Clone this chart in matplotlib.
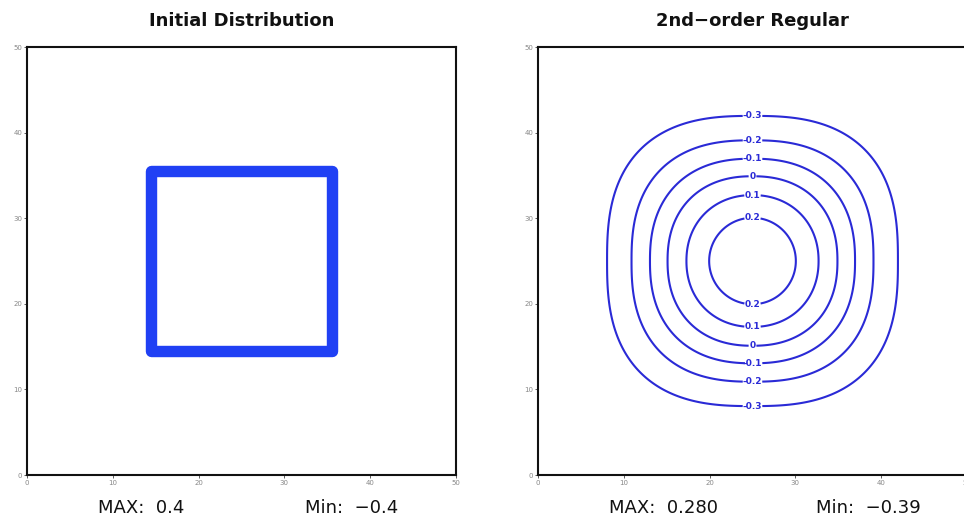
import numpy as np
import matplotlib
matplotlib.use("Agg")
import matplotlib.pyplot as plt
from matplotlib.patches import Rectangle

# left panel: the initial square outline (centre line of the thick band)
square_lo, square_hi = 14.5, 35.5

# right panel: contour rings
ring_levels = [-0.3, -0.2, -0.1, 0.0, 0.1, 0.2]
ring_labels = ["-0.3", "-0.2", "-0.1", "0", "0.1", "0.2"]
ring_radius = [16.95, 14.1, 11.95, 9.9, 7.7, 5.05]
ring_power = [2.65, 2.5, 2.35, 2.25, 2.12, 2.0]
center = (25.0, 25.0)

titles = ["Initial Distribution", "2nd\u2212order Regular"]
max_text = ["MAX:  0.4", "MAX:  0.280"]
min_text = ["Min:  \u22120.4", "Min:  \u22120.39"]
ticks = [0, 10, 20, 30, 40, 50]

fig = plt.figure(figsize=(9.64, 5.2), dpi=100)
W, H = 964.0, 520.0
ax1 = fig.add_axes([27 / W, 45 / H, 429 / W, 428 / H])
ax2 = fig.add_axes([538 / W, 45 / H, 429 / W, 428 / H])

blue_sq = "#2040f4"
blue_ring = "#2a2ad6"

# initial distribution
ax1.add_patch(Rectangle((square_lo, square_lo), square_hi - square_lo, square_hi - square_lo,
                        fill=False, edgecolor=blue_sq, linewidth=8.2, joinstyle="round"))

# smoothed rings
gg = np.linspace(0, 50, 801)
XX, YY = np.meshgrid(gg, gg)
for lev, lab, r, p in zip(ring_levels, ring_labels, ring_radius, ring_power):
    d = (np.abs((XX - center[0]) / r) ** p + np.abs((YY - center[1]) / r) ** p) ** (1.0 / p)
    cs = ax2.contour(XX, YY, d, levels=[1.0], colors=blue_ring, linewidths=1.5)
    ax2.clabel(cs, fmt={1.0: lab}, inline=True, inline_spacing=1, fontsize=6.5,
               manual=[(center[0], center[1] + r), (center[0], center[1] - r)])
    for t in cs.labelTexts:
        t.set_fontweight("bold")
        t.set_rotation(0)

for i, ax in enumerate([ax1, ax2]):
    ax.set_xlim(0, 50)
    ax.set_ylim(0, 50)
    ax.set_xticks(ticks)
    ax.set_yticks(ticks)
    ax.tick_params(length=2, width=0.6, pad=1.5, labelsize=5, colors="#444444",
                   labelcolor="#888888")
    for s in ax.spines.values():
        s.set_linewidth(1.5)
        s.set_color("#111111")
    left = 27 if i == 0 else 538
    fig.text((left + 214.5) / W, 1 - 21 / H, titles[i], ha="center", va="center",
             fontsize=13, fontweight="bold", color="#111111")
    fig.text((left + 71) / W, 1 - 508 / H, max_text[i], ha="left", va="center",
             fontsize=13, color="#111111")
    fig.text((left + 278) / W, 1 - 508 / H, min_text[i], ha="left", va="center",
             fontsize=13, color="#111111")

fig.savefig("out.png", dpi=100)
